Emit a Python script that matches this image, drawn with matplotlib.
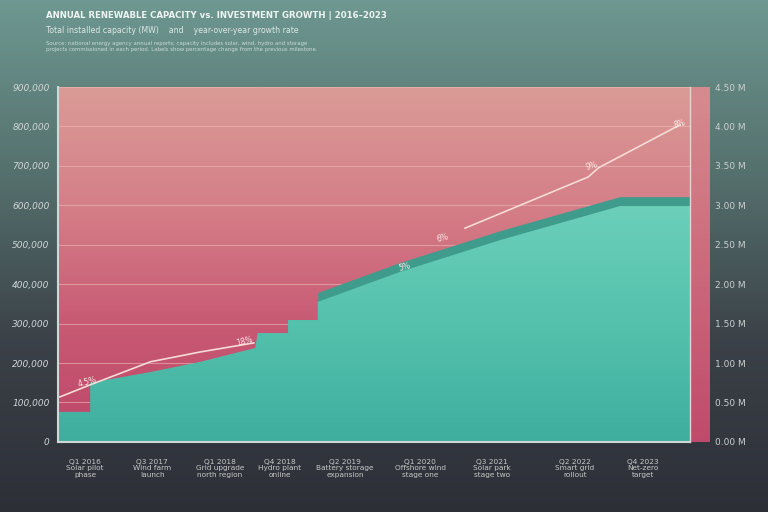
import numpy as np
import matplotlib.pyplot as plt
from matplotlib.colors import LinearSegmentedColormap

# data
cap_x = [0, 0.51, 0.51, 1.46, 2.25, 3.12, 3.16, 3.64, 3.64, 4.11, 4.11, 5.41, 7.0, 8.89, 10]
cap_y = [76, 76, 150, 177, 203, 238, 276, 276, 309, 309, 355, 431, 512, 598, 598]

line_x = [0.03, 0.5, 1.46, 2.25, 3.1, np.nan, 6.44, 8.39, 8.55, 9.84]
line_y = [114, 144, 203, 228, 251, np.nan, 542, 672, 695, 804]

note_x = [0.47, 2.96, 5.49, 6.09, 8.45, 9.84]
note_y = [152, 254, 444, 517, 700, 806]
note_txt = ["4.5%", "18%", "5%", "6%", "9%", "8%"]

left_ticks = [0, 100, 200, 300, 400, 500, 600, 700, 800, 900]
left_labels = ["0", "100,000", "200,000", "300,000", "400,000", "500,000",
               "600,000", "700,000", "800,000", "900,000"]
right_labels = ["0.00 M", "0.50 M", "1.00 M", "1.50 M", "2.00 M", "2.50 M",
                "3.00 M", "3.50 M", "4.00 M", "4.50 M"]

cat_pos = [0.43, 1.49, 2.56, 3.51, 4.54, 5.73, 6.87, 8.18, 9.26]
cat_labels = [
    "Q1 2016\nSolar pilot\nphase",
    "Q3 2017\nWind farm\nlaunch",
    "Q1 2018\nGrid upgrade\nnorth region",
    "Q4 2018\nHydro plant\nonline",
    "Q2 2019\nBattery storage\nexpansion",
    "Q1 2020\nOffshore wind\nstage one",
    "Q3 2021\nSolar park\nstage two",
    "Q2 2022\nSmart grid\nrollout",
    "Q4 2023\nNet-zero\ntarget",
]

fig = plt.figure(figsize=(7.68, 5.12), dpi=100)

# figure background gradient
bg = fig.add_axes([0, 0, 1, 1], zorder=-10)
bg_cmap = LinearSegmentedColormap.from_list("bg", ["#2d2f37", "#3b4148", "#55716e", "#6e9891"])
bg.imshow(np.linspace(0, 1, 256).reshape(-1, 1), aspect="auto", cmap=bg_cmap,
          origin="lower", extent=[0, 1, 0, 1])
bg.axis("off")

ax = fig.add_axes([0.0755, 0.137, 0.823, 0.693])
ax.set_xlim(0, 10)
ax.set_ylim(0, 900)

pink = LinearSegmentedColormap.from_list("pink", ["#bd4668", "#c85a74", "#d57f88", "#da9b96"])
ax.imshow(np.linspace(0, 1, 256).reshape(-1, 1), aspect="auto", cmap=pink,
          origin="lower", extent=[0, 10, 0, 900], zorder=0)

# horizontal grid
for t in left_ticks[1:]:
    ax.axhline(t, color="#efb8b6", lw=0.8, alpha=0.6, zorder=1)

# teal area with gradient
poly = ax.fill_between(cap_x, 0, cap_y, color="#55c2ad", zorder=2, lw=0)
teal = LinearSegmentedColormap.from_list("teal", ["#3fae9f", "#55c2ad", "#6dd0bb"])
im = ax.imshow(np.linspace(0, 1, 256).reshape(-1, 1), aspect="auto", cmap=teal,
               origin="lower", extent=[0, 10, 0, 620], zorder=2.1)
im.set_clip_path(poly.get_paths()[0], transform=ax.transData)

edge_y = [v + 24 for v in cap_y]
ax.fill_between(cap_x, cap_y, edge_y, where=[x >= 4.11 for x in cap_x],
                color="#3f9c8c", zorder=2, lw=0)

# growth line
ax.plot(line_x, line_y, color="#f6dcd6", lw=1.2, zorder=3)
for x, y, t in zip(note_x, note_y, note_txt):
    ax.text(x, y, t, color="#fbeae6", fontsize=5.5, ha="center", va="center",
            rotation=15, zorder=4)

ax.set_xticks(cat_pos)
ax.set_xticklabels(cat_labels, fontsize=5.3, color="#c9c9c9", linespacing=1.1)
ax.set_yticks(left_ticks)
ax.set_yticklabels(left_labels, fontsize=6.5, color="#d0d6d6", style="italic")
ax.tick_params(length=0, pad=6)
ax.tick_params(axis="x", pad=12)
for s in ["top", "right"]:
    ax.spines[s].set_visible(False)
ax.spines["left"].set_color("#cfd8d6")
ax.spines["bottom"].set_color("#cfd8d6")
ax.spines["left"].set_linewidth(1.5)
ax.spines["bottom"].set_linewidth(1.5)

# right axis strip
strip = fig.add_axes([0.898, 0.137, 0.026, 0.693])
strip_cmap = LinearSegmentedColormap.from_list("strip", ["#c04a6b", "#cc6a7c", "#d68c8f"])
strip.imshow(np.linspace(0, 1, 256).reshape(-1, 1), aspect="auto", cmap=strip_cmap,
             origin="lower", extent=[0, 1, 0, 900])
strip.set_ylim(0, 900)
strip.set_xticks([])
strip.yaxis.tick_right()
strip.set_yticks(left_ticks)
strip.set_yticklabels(right_labels, fontsize=6.5, color="#c9d0d0")
strip.tick_params(length=0, pad=4)
for s in ["top", "right", "bottom"]:
    strip.spines[s].set_visible(False)
strip.spines["left"].set_color("#e4d4d4")
strip.spines["left"].set_linewidth(1.0)

# title block
fig.text(0.06, 0.965, "ANNUAL RENEWABLE CAPACITY vs. INVESTMENT GROWTH | 2016\u20132023",
         fontsize=6.2, fontweight="bold", color="#eef4f2")
fig.text(0.06, 0.935, "Total installed capacity (MW)    and    year-over-year growth rate",
         fontsize=5.6, color="#dde8e6")
fig.text(0.06, 0.913, "Source: national energy agency annual reports; capacity includes solar, wind, hydro and storage",
         fontsize=3.9, color="#c9dbd8")
fig.text(0.06, 0.9, "projects commissioned in each period. Labels show percentage change from the previous milestone.",
         fontsize=3.9, color="#c9dbd8")

fig.savefig("out.png", dpi=100)
